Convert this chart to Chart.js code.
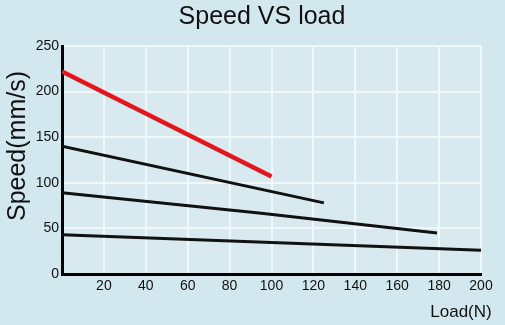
<!DOCTYPE html>
<html>
<head>
<meta charset="utf-8">
<script src="https://cdn.jsdelivr.net/npm/chart.js@4"></script>
<style>
html,body{margin:0;padding:0;background:#d3e8ee;}
#wrap{width:505px;height:325px;}
</style>
</head>
<body>
<div id="wrap"><canvas id="c" width="505" height="325"></canvas></div>
<script>
const chartTitle = "Speed VS load";
const xTitle = "Load(N)";
const yTitle = "Speed(mm/s)";
const xTicks = [20, 40, 60, 80, 100, 120, 140, 160, 180, 200];
const yTicks = [0, 50, 100, 150, 200, 250];

const redLoad = [0, 100];
const redSpeed = [222, 107];
const line2Load = [0, 125];
const line2Speed = [140, 78];
const line3Load = [0, 94, 179];
const line3Speed = [89, 67, 45];
const line4Load = [0, 200];
const line4Speed = [43, 26];

function pts(xs, ys) { return xs.map((x, i) => ({x: x, y: ys[i]})); }

const FONT = '"Liberation Sans", Arial, sans-serif';

const bgPlugin = {
  id: 'bg',
  beforeDraw(chart) {
    const ctx = chart.ctx, a = chart.chartArea;
    ctx.save();
    ctx.fillStyle = '#d3e8ee';
    ctx.fillRect(0, 0, chart.width, chart.height);
    ctx.fillStyle = '#d8eaef';
    ctx.fillRect(a.left, a.top, a.right - a.left, a.bottom - a.top);
    ctx.restore();
  },
  afterDraw(chart) {
    const ctx = chart.ctx;
    ctx.save();
    ctx.fillStyle = '#111';
    ctx.textAlign = 'center';
    ctx.textBaseline = 'middle';
    ctx.font = '25px ' + FONT;
    ctx.fillText(chartTitle, 262, 17);
    ctx.font = '17px ' + FONT;
    ctx.fillText(xTitle, 461, 312);
    ctx.translate(18, 146);
    ctx.rotate(-Math.PI / 2);
    ctx.font = '25px ' + FONT;
    ctx.fillText(yTitle, 0, 0);
    ctx.restore();
  }
};

new Chart(document.getElementById('c'), {
  type: 'line',
  data: {
    datasets: [
      {data: pts(redLoad, redSpeed), borderColor: '#e3161d', borderWidth: 4.5, pointRadius: 0, tension: 0},
      {data: pts(line2Load, line2Speed), borderColor: '#111', borderWidth: 3, pointRadius: 0, tension: 0},
      {data: pts(line3Load, line3Speed), borderColor: '#111', borderWidth: 3, pointRadius: 0, tension: 0},
      {data: pts(line4Load, line4Speed), borderColor: '#111', borderWidth: 3, pointRadius: 0, tension: 0}
    ]
  },
  options: {
    responsive: false,
    animation: false,
    devicePixelRatio: 1,
    layout: {padding: {left: 0, right: 24, top: 46, bottom: 0}},
    plugins: {
      legend: {display: false},
      tooltip: {enabled: false},
      title: {display: false}
    },
    scales: {
      x: {
        type: 'linear',
        min: 0, max: 200,
        afterFit(s) { s.height = 51; },
        afterBuildTicks(s) { s.ticks = [0].concat(xTicks).map(v => ({value: v})); },
        ticks: {
          color: '#111',
          padding: 4,
          font: {family: FONT, size: 14},
          callback: v => (v === 0 ? '' : String(v)),
          maxRotation: 0, autoSkip: false
        },
        grid: {
          color: ctx => (ctx.tick && ctx.tick.value === 0 ? 'rgba(0,0,0,0)' : '#f0f8fa'),
          lineWidth: 2,
          drawTicks: false
        },
        border: {display: true, color: '#000', width: 3}
      },
      y: {
        min: 0, max: 250,
        afterFit(s) { s.width = 62; },
        afterBuildTicks(s) { s.ticks = yTicks.map(v => ({value: v})); },
        ticks: {
          color: '#111',
          padding: 3,
          font: {family: FONT, size: 14},
          autoSkip: false
        },
        grid: {
          color: ctx => (ctx.tick && ctx.tick.value === 0 ? 'rgba(0,0,0,0)' : '#f0f8fa'),
          lineWidth: 2,
          drawTicks: false
        },
        border: {display: true, color: '#000', width: 3}
      }
    }
  },
  plugins: [bgPlugin]
});
</script>
</body>
</html>
